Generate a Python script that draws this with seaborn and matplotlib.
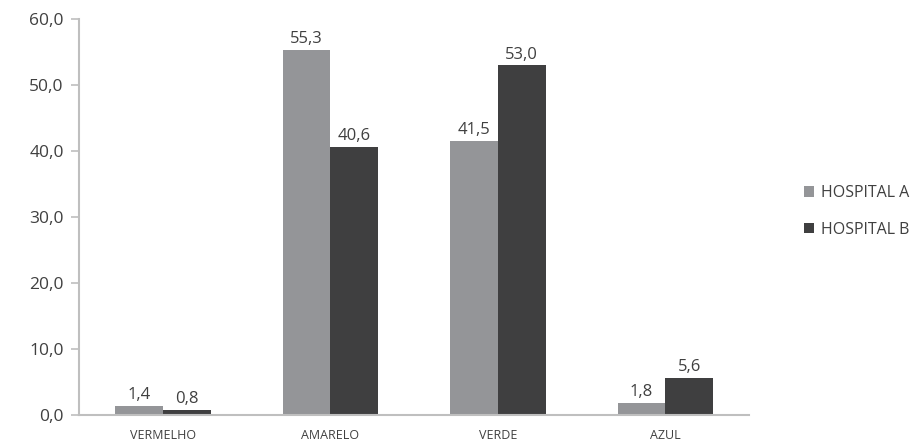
import pandas as pd
import matplotlib.pyplot as plt
import seaborn as sns

categories = ['VERMELHO', 'AMARELO', 'VERDE', 'AZUL']
hospital_a = [1.4, 55.3, 41.5, 1.8]
hospital_b = [0.8, 40.6, 53.0, 5.6]
series = ['HOSPITAL A', 'HOSPITAL B']
y_ticks = [0, 10, 20, 30, 40, 50, 60]

df = pd.DataFrame({
    'categoria': categories * 2,
    'valor': hospital_a + hospital_b,
    'hospital': [series[0]] * 4 + [series[1]] * 4,
})

sns.set_style('white')
plt.rcParams['font.family'] = ['Open Sans', 'DejaVu Sans']
text_color = '#404040'
axis_color = '#bfbfbf'

fig = plt.figure(figsize=(9.22, 4.45), dpi=100)
ax = fig.add_axes([0.0857, 0.0674, 0.8124 - 0.0857, 0.957 - 0.0674])

sns.barplot(data=df, x='categoria', y='valor', hue='hospital',
            palette=['#949598', '#3f3f40'], width=0.57, gap=0,
            saturation=1, linewidth=0, ax=ax, legend=True)

for container in ax.containers:
    ax.bar_label(container, labels=[f'{v:.1f}'.replace('.', ',') for v in container.datavalues],
                 padding=2, fontsize=12, color=text_color)

ax.set_xlim(-0.5, 3.5)
ax.set_ylim(0, 60)
ax.set_yticks(y_ticks)
ax.set_yticklabels([f'{v:.1f}'.replace('.', ',') for v in y_ticks], fontsize=12.5, color=text_color)
ax.set_xticks(range(len(categories)))
ax.set_xticklabels(categories, fontsize=9, color=text_color)
ax.set_xticks([-0.5, 0.5, 1.5, 2.5, 3.5], minor=True)
ax.tick_params(axis='x', which='major', length=0, pad=10)
ax.tick_params(axis='x', which='minor', length=6, width=1.2, color=axis_color, direction='out')
ax.tick_params(axis='y', length=6, width=1.2, color=axis_color, direction='out', pad=5, left=True)
ax.set_xlabel('')
ax.set_ylabel('')

for side in ['top', 'right']:
    ax.spines[side].set_visible(False)
for side in ['left', 'bottom']:
    ax.spines[side].set_color(axis_color)
    ax.spines[side].set_linewidth(1.5)

handles, labels = ax.get_legend_handles_labels()
ax.legend(handles, labels, loc='center left', bbox_to_anchor=(1.061, 0.514),
          frameon=False, fontsize=11.5, labelcolor=text_color,
          handlelength=0.62, handleheight=0.62, handletextpad=0.4, labelspacing=1.3)

fig.savefig('out.png', dpi=100)
